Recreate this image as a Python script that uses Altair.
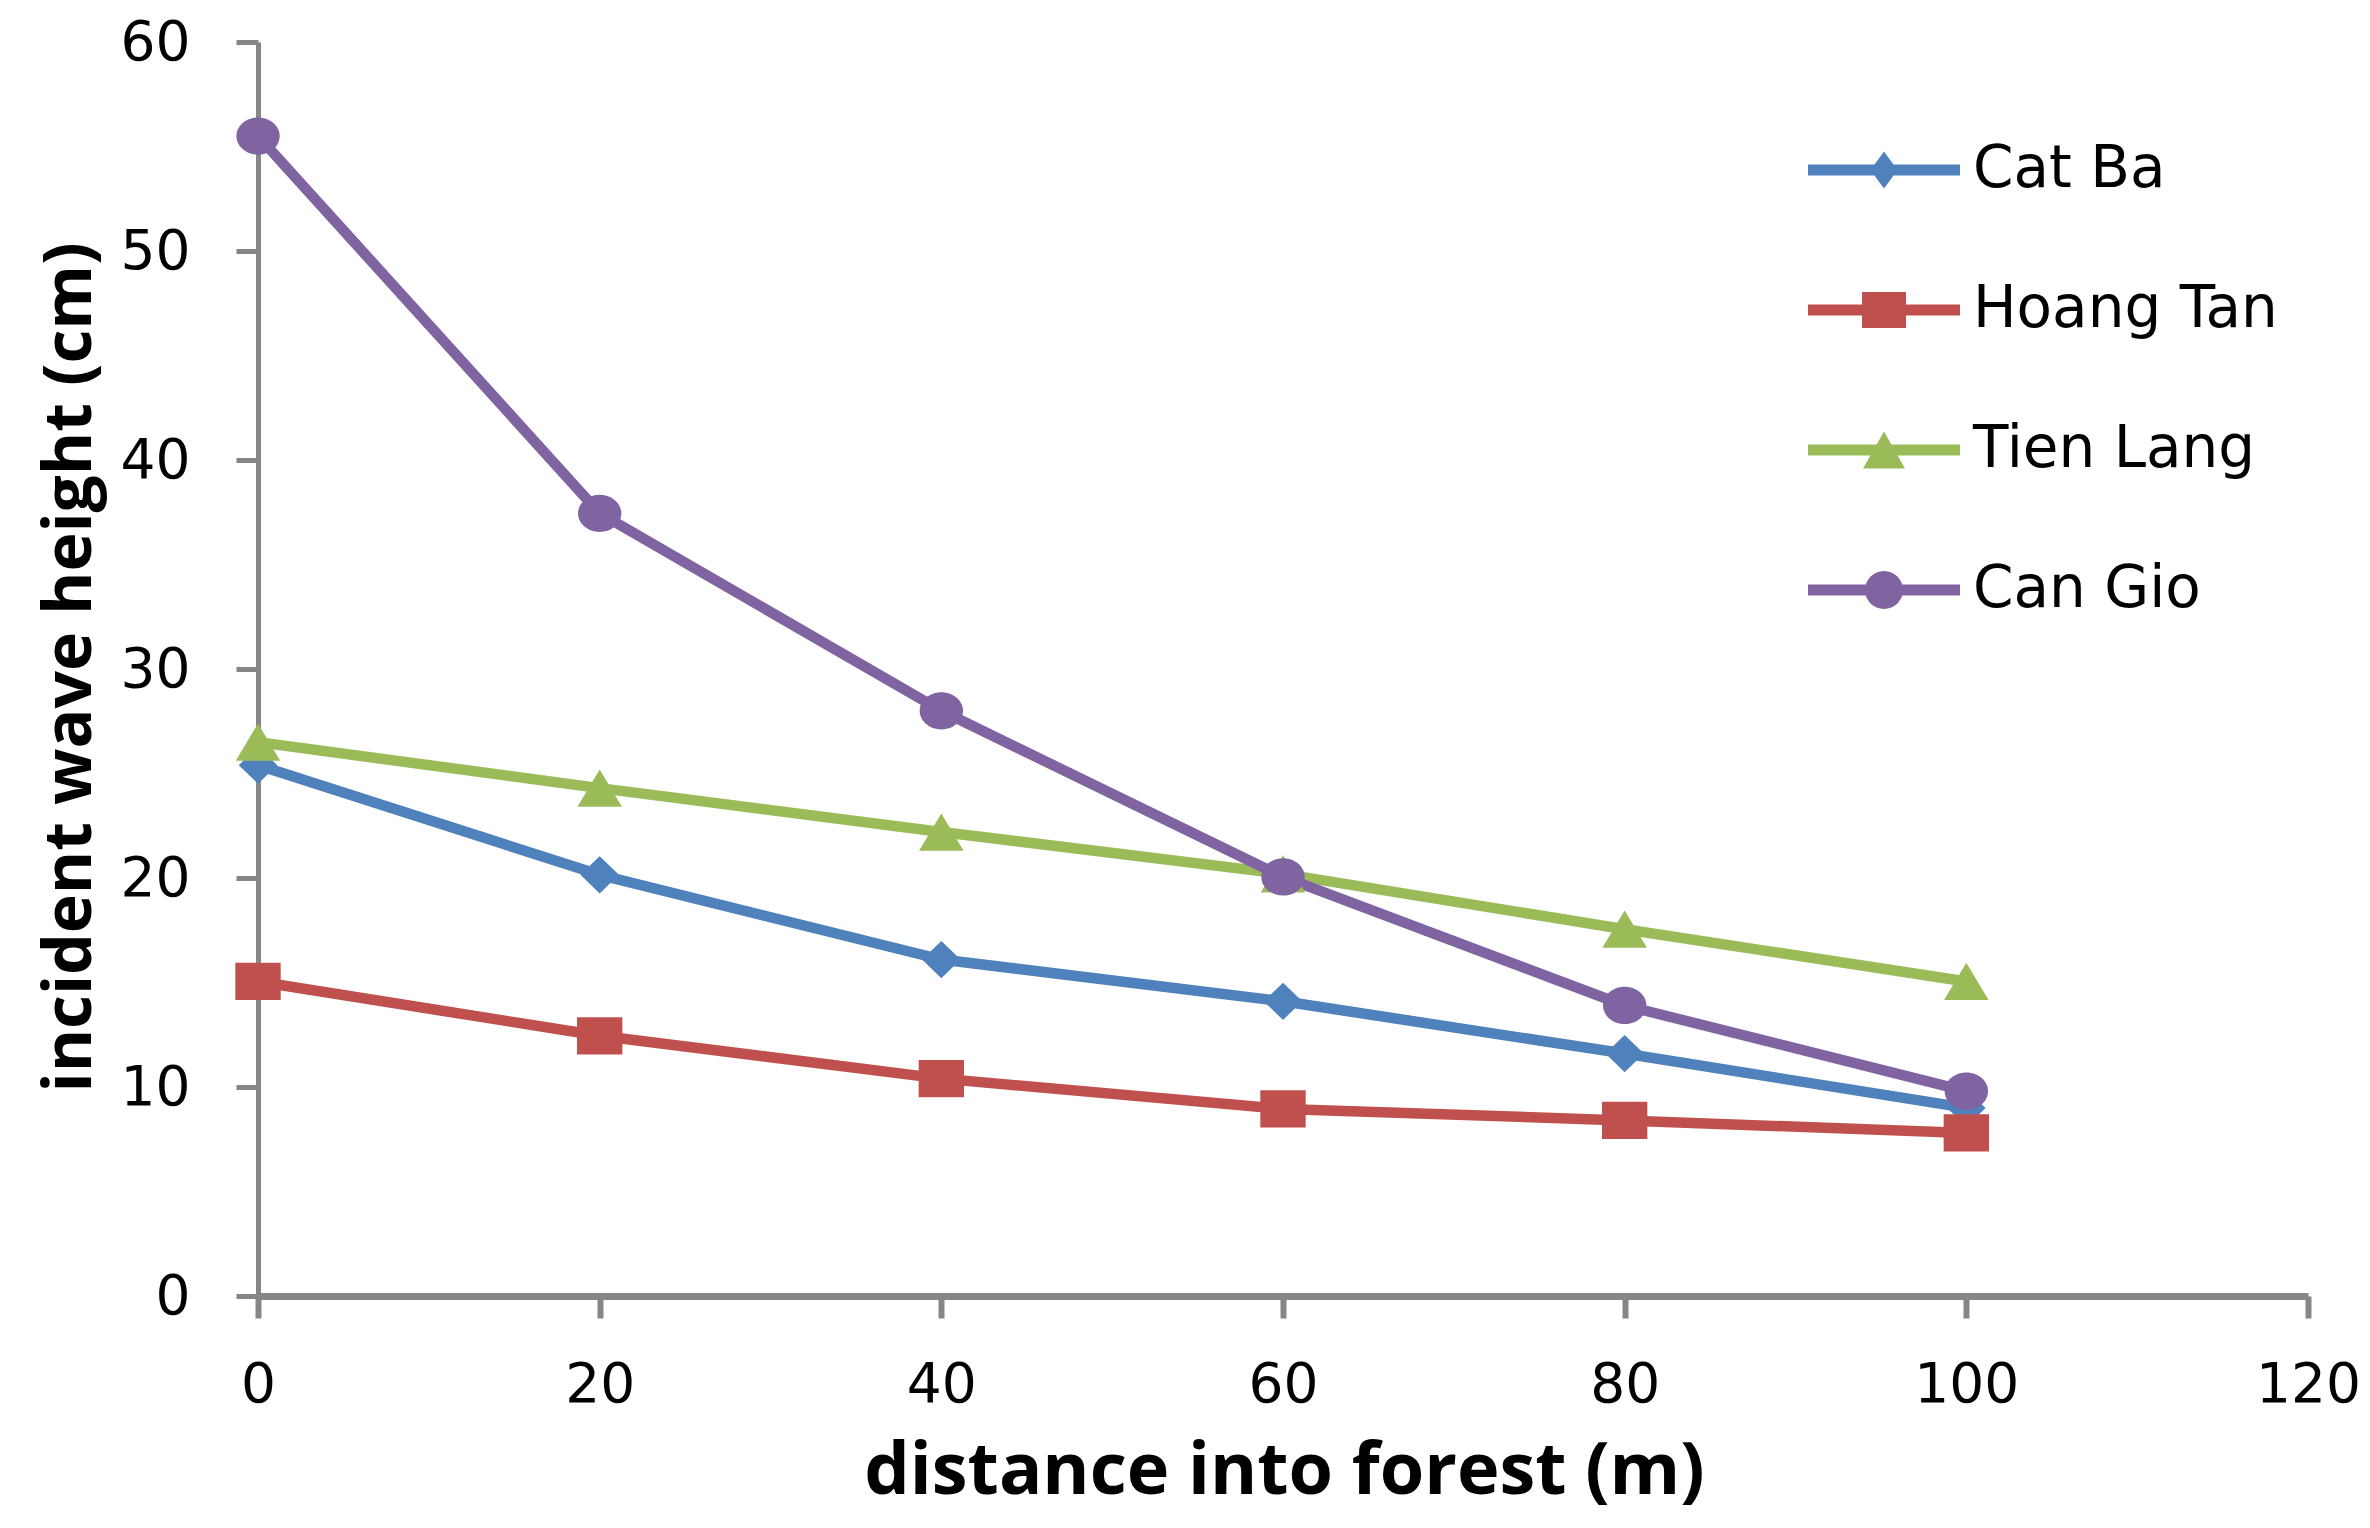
import altair as alt
import pandas as pd

# ---- data ----
distance = [0, 20, 40, 60, 80, 100]
series = ["Cat Ba", "Hoang Tan", "Tien Lang", "Can Gio"]
cat_ba = [25.4, 20.15, 16.1, 14.1, 11.6, 9.0]
hoang_tan = [15.05, 12.45, 10.4, 8.95, 8.4, 7.8]
tien_lang = [26.5, 24.3, 22.2, 20.2, 17.55, 15.05]
can_gio = [55.5, 37.45, 28.0, 20.05, 13.9, 9.8]
x_ticks = [0, 20, 40, 60, 80, 100, 120]
y_ticks = [0, 10, 20, 30, 40, 50, 60]

colors = ["#4F81BD", "#C0504D", "#9BBB59", "#8064A2"]

rows = []
for name, vals in zip(series, [cat_ba, hoang_tan, tien_lang, can_gio]):
    for d, v in zip(distance, vals):
        rows.append({"distance": d, "height": v, "series": name})
df = pd.DataFrame(rows)

# marker shapes (unit paths, scaled by sqrt(size)/2)
marker_paths = [
    "M0,-0.92L0.95,0L0,0.92L-0.95,0Z",
    "M-1.12,-0.92H1.12V0.92H-1.12Z",
    "M0,-0.92L1.1,0.92H-1.1Z",
    "M-1.07,0A1.07,0.92 0 1,1 1.07,0A1.07,0.92 0 1,1 -1.07,0Z",
]
# legend symbols: line stub + marker
stub = "M-3.8,-0.275H3.8V0.275H-3.8Z"
legend_paths = [
    stub + "M0,-0.92L0.68,0L0,0.92L-0.68,0Z",
    stub + "M-1.1,-0.9H1.1V0.9H-1.1Z",
    stub + "M0,-0.92L1.05,0.92H-1.05Z",
    stub + "M-0.95,0A0.95,0.95 0 1,1 0.95,0A0.95,0.95 0 1,1 -0.95,0Z",
]

W, H = 2050, 1254
AXIS_GREY = "#868686"

x_enc = alt.X(
    "distance:Q",
    scale=alt.Scale(domain=[0, 120], nice=False),
    axis=alt.Axis(
        values=x_ticks, title="distance into forest (m)", grid=False,
        domainColor=AXIS_GREY, domainWidth=7, tickColor=AXIS_GREY, tickWidth=6,
        tickSize=22, labelFont="DejaVu Sans", labelFontSize=55, labelColor="black",
        labelPadding=40, labelFlush=False,
        titleFont="Open Sans", titleFontWeight="bold", titleFontSize=72, titleColor="black",
        titleX=1026, titleY=197, titleBaseline="alphabetic", titleAlign="center",
    ),
)
y_enc = alt.Y(
    "height:Q",
    scale=alt.Scale(domain=[0, 60], nice=False),
    axis=alt.Axis(
        values=y_ticks, title="incident wave height (cm)", grid=False,
        domainColor=AXIS_GREY, domainWidth=5, tickColor=AXIS_GREY, tickWidth=5,
        tickSize=22, labelFont="DejaVu Sans", labelFontSize=55, labelColor="black",
        labelPadding=46, labelFlush=False,
        titleFont="Open Sans", titleFontWeight="bold", titleFontSize=66, titleColor="black",
        titleAngle=270, titleX=-168, titleY=625, titleBaseline="alphabetic",
        titleAlign="center",
    ),
)

def color_enc(legend):
    if legend:
        return alt.Color("series:N", scale=alt.Scale(domain=series, range=colors), legend=legend)
    return alt.Color("series:N", scale=alt.Scale(domain=series, range=colors), legend=None)

lines = alt.Chart(df).mark_line(strokeWidth=10.5, strokeJoin="round").encode(
    x=x_enc,
    y=y_enc,
    color=color_enc(None),
    order=alt.Order("distance:Q"),
)

points = alt.Chart(df).mark_point(filled=True, size=1640, opacity=1, strokeWidth=0).encode(
    x=x_enc,
    y=y_enc,
    color=color_enc(None),
    shape=alt.Shape("series:N", scale=alt.Scale(domain=series, range=marker_paths), legend=None),
)

legend_def = alt.Legend(
    title=None, orient="none", legendX=1597, legendY=99,
    labelFont="DejaVu Sans", labelFontSize=58, labelColor="black",
    labelOffset=60, rowPadding=82, padding=0, symbolSize=1600,
    symbolStrokeWidth=0, labelLimit=0,
)

legend_layer = alt.Chart(df).transform_filter(
    alt.datum.distance < 0
).mark_point(filled=True, size=1600, opacity=1, strokeWidth=0).encode(
    x=x_enc,
    y=y_enc,
    color=color_enc(legend_def),
    shape=alt.Shape("series:N", scale=alt.Scale(domain=series, range=legend_paths), legend=legend_def),
)

chart = alt.layer(lines, points, legend_layer).resolve_scale(
    color="independent", shape="independent"
).properties(
    width=W, height=H,
    autosize=alt.AutoSizeParams(type="none"),
    padding={"left": 250, "top": 34, "right": 53, "bottom": 220},
    background="white",
).configure_view(strokeWidth=0)

chart.save("out.html", embed_options={"renderer": "svg", "actions": False})
